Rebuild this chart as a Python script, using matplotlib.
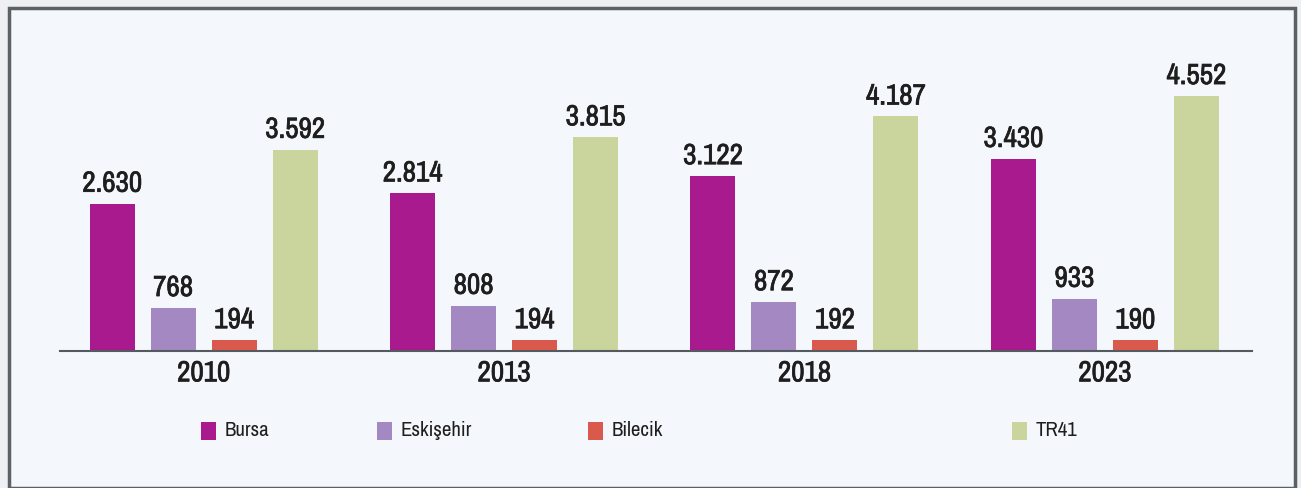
import numpy as np
import matplotlib
matplotlib.use('Agg')
import matplotlib.pyplot as plt
import matplotlib.patheffects as pe
from matplotlib import font_manager
from matplotlib.patches import Rectangle

# data
years = ['2010', '2013', '2018', '2023']
series = ['Bursa', 'Eskişehir', 'Bilecik', 'TR41']
bursa = [2630, 2814, 3122, 3430]
eskisehir = [768, 808, 872, 933]
bilecik = [194, 194, 192, 190]
tr41 = [3592, 3815, 4187, 4552]
colors = ['#A81A8E', '#A488C2', '#D95A4C', '#C9D59C']

fonts = font_manager.fontManager.ttflist
names = {f.name for f in fonts}
narrow = [f.name for f in fonts if 'Narrow' in f.name or 'Condensed' in f.name]
has_dv_cond = any(f.name == 'DejaVu Sans' and f.stretch in ('condensed', 600, 'semi-condensed') for f in fonts)
if 'Liberation Sans Narrow' in names:
    fam, stretch, big, small = 'Liberation Sans Narrow', 'normal', 21, 15
elif narrow:
    fam, stretch, big, small = narrow[0], 'normal', 21, 15
elif has_dv_cond:
    fam, stretch, big, small = 'DejaVu Sans', 'condensed', 19, 13
else:
    fam, stretch, big, small = 'Liberation Sans', 'normal', 18, 13
plt.rcParams['font.family'] = [fam, 'DejaVu Sans']
plt.rcParams['font.stretch'] = stretch

txt_col = '#1E1E1E'
# thicken the strokes a bit, the original text is heavier
heavy = [pe.withStroke(linewidth=0.5, foreground=txt_col)]

W, H = 1301, 488
fig = plt.figure(figsize=(W / 100, H / 100), dpi=100)
fig.patch.set_facecolor('#EEF0F3')

# frame
fig.patches.append(Rectangle((9 / W, 0), 1286 / W, 480 / H, transform=fig.transFigure,
                             facecolor='#F4F7FB', edgecolor='#5C6166', linewidth=2.5,
                             zorder=-10))

# axes: baseline at y=351 px from top, x from 60 to 1252
ax = fig.add_axes([60 / W, (H - 351) / H, (1252 - 60) / W, (351 - 20) / H])
ax.set_facecolor('none')
ax.set_zorder(5)

x = np.arange(len(years))
width = 0.15
offsets = [-0.3045, -0.1015, 0.1015, 0.3045]
all_vals = [bursa, eskisehir, bilecik, tr41]

for vals, off, col in zip(all_vals, offsets, colors):
    bars = ax.bar(x + off, vals, width, color=col)
    for b, v in zip(bars, vals):
        lbl = f'{v:,}'.replace(',', '.')
        ax.annotate(lbl, (b.get_x() + b.get_width() / 2, v), xytext=(0, 5),
                    textcoords='offset points', ha='center', va='bottom',
                    fontsize=big, color=txt_col, path_effects=heavy)

ax.set_xlim(-0.478, 3.49)
ax.set_ylim(0, 331 / 0.05602)
ax.set_xticks(x)
ax.set_xticklabels(years, fontsize=big, color=txt_col)
for t in ax.get_xticklabels():
    t.set_path_effects(heavy)
ax.tick_params(axis='x', length=0, pad=6)
ax.set_yticks([])
for s in ['top', 'right', 'left']:
    ax.spines[s].set_visible(False)
ax.spines['bottom'].set_color('#555A60')
ax.spines['bottom'].set_linewidth(1.5)

# legend
leg_x = [201, 377, 588, 1012]
for name, col, lx in zip(series, colors, leg_x):
    fig.patches.append(Rectangle((lx / W, (H - 440) / H), 15 / W, 18 / H,
                                 transform=fig.transFigure, facecolor=col, edgecolor='none'))
    fig.text((lx + 24) / W, (H - 431) / H, name, fontsize=small, color=txt_col,
             ha='left', va='center')

fig.savefig('out.png', dpi=100)
